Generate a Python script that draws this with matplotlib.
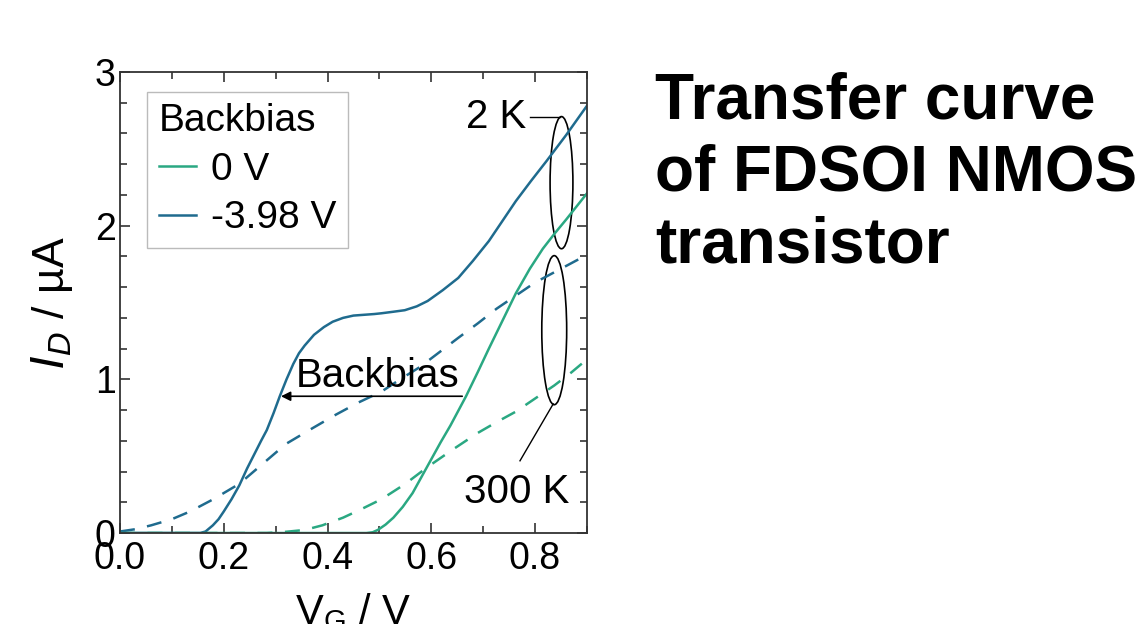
import matplotlib
matplotlib.use('Agg')
import matplotlib.pyplot as plt
from matplotlib.patches import Ellipse
from matplotlib.ticker import MultipleLocator

plt.rcParams['font.family'] = ['Liberation Sans', 'DejaVu Sans']

# 2 K, backbias -3.98 V (solid blue)
vg_blue_2k = [0.0, 0.10, 0.155, 0.165, 0.179, 0.19, 0.20, 0.215, 0.23, 0.245, 0.26, 0.272, 0.283, 0.296,
              0.308, 0.321, 0.334, 0.345, 0.356, 0.374, 0.393, 0.41, 0.43, 0.45, 0.47, 0.49, 0.504,
              0.527, 0.549, 0.572, 0.593, 0.622, 0.652, 0.68, 0.711, 0.737, 0.763, 0.792, 0.822,
              0.86, 0.9]
id_blue_2k = [0.0, 0.0, 0.0, 0.01, 0.05, 0.09, 0.14, 0.22, 0.31, 0.42, 0.52, 0.60, 0.67, 0.78,
              0.89, 1.00, 1.10, 1.17, 1.22, 1.29, 1.34, 1.375, 1.40, 1.415, 1.42, 1.425, 1.43,
              1.44, 1.45, 1.475, 1.51, 1.58, 1.66, 1.77, 1.90, 2.03, 2.16, 2.29, 2.42, 2.59, 2.78]

# 2 K, backbias 0 V (solid green)
vg_green_2k = [0.0, 0.30, 0.475, 0.487, 0.497, 0.512, 0.527, 0.545, 0.564, 0.582, 0.60, 0.618, 0.637,
               0.652, 0.667, 0.69, 0.711, 0.737, 0.763, 0.79, 0.815, 0.838, 0.86, 0.88, 0.9]
id_green_2k = [0.0, 0.0, 0.0, 0.005, 0.02, 0.055, 0.10, 0.17, 0.26, 0.37, 0.48, 0.59, 0.70,
               0.795, 0.89, 1.05, 1.20, 1.38, 1.56, 1.72, 1.85, 1.95, 2.04, 2.125, 2.21]

# 300 K, backbias -3.98 V (dashed blue)
vg_blue_300k = [0.0, 0.03, 0.06, 0.10, 0.135, 0.18, 0.23, 0.275, 0.32, 0.37, 0.416, 0.46, 0.504,
                0.54, 0.578, 0.615, 0.652, 0.69, 0.726, 0.763, 0.80, 0.85, 0.9]
id_blue_300k = [0.01, 0.025, 0.05, 0.09, 0.14, 0.22, 0.32, 0.45, 0.58, 0.68, 0.77, 0.85, 0.92,
                1.00, 1.08, 1.175, 1.27, 1.365, 1.46, 1.545, 1.63, 1.72, 1.81]

# 300 K, backbias 0 V (dashed green)
vg_green_300k = [0.0, 0.20, 0.283, 0.32, 0.356, 0.39, 0.43, 0.465, 0.504, 0.55, 0.593, 0.64, 0.689,
                 0.725, 0.763, 0.80, 0.837, 0.87, 0.9]
id_green_300k = [0.0, 0.0, 0.0, 0.008, 0.02, 0.05, 0.10, 0.155, 0.22, 0.32, 0.43, 0.54, 0.65,
                 0.72, 0.79, 0.875, 0.96, 1.045, 1.13]

GREEN = '#2aa882'
BLUE = '#1f6b8e'

fig = plt.figure(figsize=(11.47, 6.24), dpi=100)
ax = fig.add_axes([0.1046, 0.1458, 0.4071, 0.7388])

ax.plot(vg_green_2k, id_green_2k, '-', color=GREEN, lw=1.8, label='0 V')
ax.plot(vg_blue_2k, id_blue_2k, '-', color=BLUE, lw=1.8, label='-3.98 V')
ax.plot(vg_blue_300k, id_blue_300k, '--', color=BLUE, lw=1.8, dashes=(6, 5))
ax.plot(vg_green_300k, id_green_300k, '--', color=GREEN, lw=1.8, dashes=(6, 5))

ax.set_xlim(0, 0.9)
ax.set_ylim(0, 3)
ax.xaxis.set_minor_locator(MultipleLocator(0.1))
ax.yaxis.set_major_locator(MultipleLocator(1))
ax.yaxis.set_minor_locator(MultipleLocator(0.2))
ax.set_xticks([0.0, 0.2, 0.4, 0.6, 0.8])
ax.set_xticklabels(['0.0', '0.2', '0.4', '0.6', '0.8'])
ax.tick_params(which='both', direction='in', top=True, right=True, labelsize=27, color='#333333')
ax.tick_params(which='major', length=7, width=1.2, pad=3)
ax.tick_params(axis='x', which='major', pad=6)
ax.tick_params(which='minor', length=5, width=1.2)
for s in ax.spines.values():
    s.set_linewidth(1.3)
    s.set_color('#333333')

ax.set_xlabel('V$_\\mathregular{G}$ / V', fontsize=30, labelpad=10)
ax.set_ylabel('$\\mathit{I}_\\mathit{D}$ / µA', fontsize=32, labelpad=14)

leg = ax.legend(title='Backbias', loc='upper left', fontsize=28, title_fontsize=28,
                handlelength=0.95, handletextpad=0.4, borderpad=0.3, labelspacing=0.32,
                borderaxespad=0, fancybox=False, edgecolor='#aaaaaa',
                bbox_to_anchor=(0.058, 0.957))
leg._legend_box.align = 'left'
leg.get_frame().set_linewidth(1.0)

# backbias arrow
ax.annotate('', xy=(0.305, 0.89), xytext=(0.665, 0.89),
            arrowprops=dict(arrowstyle='-|>', color='black', lw=1.2, mutation_scale=14))
ax.text(0.497, 1.02, 'Backbias', fontsize=29, ha='center', va='center')

# temperature ellipses
ax.add_patch(Ellipse((0.851, 2.28), 0.044, 0.86, fill=False, lw=1.2, color='black'))
ax.add_patch(Ellipse((0.837, 1.32), 0.048, 0.97, fill=False, lw=1.2, color='black'))
ax.plot([0.79, 0.848], [2.71, 2.71], color='black', lw=1.0)
ax.text(0.725, 2.71, '2 K', fontsize=29, ha='center', va='center')
ax.plot([0.771, 0.835], [0.47, 0.84], color='black', lw=1.0)
ax.text(0.765, 0.27, '300 K', fontsize=29, ha='center', va='center')

fig.text(0.571, 0.885, 'Transfer curve\nof FDSOI NMOS\ntransistor', fontsize=46,
         fontweight='bold', ha='left', va='top', linespacing=1.25)

fig.savefig('out.png', dpi=100)
